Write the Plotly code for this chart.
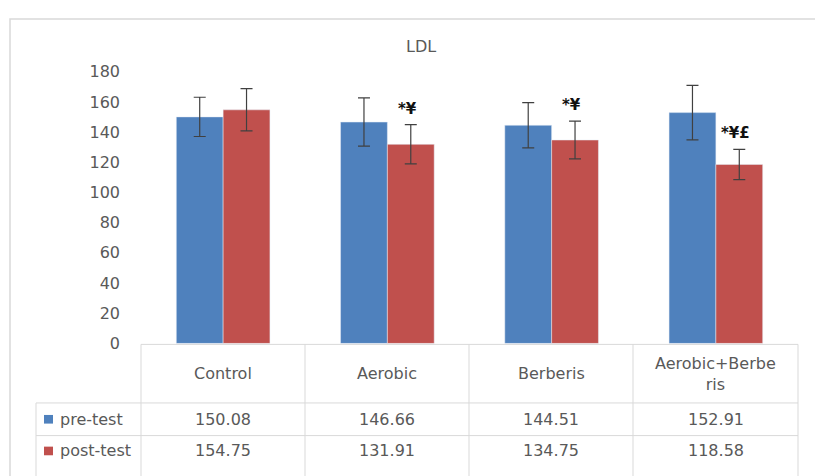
import plotly.graph_objects as go

categories = ["Control", "Aerobic", "Berberis", "Aerobic+Berberis"]
category_labels = ["Control", "Aerobic", "Berberis", "Aerobic+Berbe<br>ris"]
series_names = ["pre-test", "post-test"]
pre_test = [150.08, 146.66, 144.51, 152.91]
post_test = [154.75, 131.91, 134.75, 118.58]
pre_err = [13, 16, 15, 18]
post_err = [14, 13, 12.5, 10]
post_marks = ["", "*¥", "*¥", "*¥£"]
y_ticks = [0, 20, 40, 60, 80, 100, 120, 140, 160, 180]
title_text = "LDL"

# the page body has an 8px margin; figure coordinates are shifted so that
# positions below are given in window pixels
OFF = 8
W, H = 823, 476
BLUE = "#4F81BD"
RED = "#C0504D"
GRID = "#D9D9D9"
TXT = "#595959"
FONT = "DejaVu Sans"


def px(x):
    return (x - OFF) / W


def py(y):
    return 1 - (y - OFF) / H


plot_left, plot_right = 141, 798
y_zero, y_top = 348, 65

fig = go.Figure()
fig.add_trace(go.Bar(
    x=categories, y=pre_test, name=series_names[0], marker_color=BLUE,
    error_y=dict(type="data", array=pre_err, visible=True, color="#404040", thickness=1.2, width=6),
))
fig.add_trace(go.Bar(
    x=categories, y=post_test, name=series_names[1], marker_color=RED,
    error_y=dict(type="data", array=post_err, visible=True, color="#404040", thickness=1.2, width=6),
))

shapes = []
# chart border
shapes.append(dict(type="rect", xref="paper", yref="paper", x0=px(10), x1=px(840), y0=py(10), y1=py(495),
                   line=dict(color=GRID, width=1.5)))

# table geometry
col_edges = [141, 305, 469, 633, 798]
row_top, row_hdr, row_pre, row_bot = 349, 410, 444, 490
tab_left = 36


def hline(y, x0, x1):
    shapes.append(dict(type="line", xref="paper", yref="paper", x0=px(x0), x1=px(x1), y0=py(y), y1=py(y),
                       line=dict(color=GRID, width=1)))


def vline(x, y0, y1):
    shapes.append(dict(type="line", xref="paper", yref="paper", x0=px(x), x1=px(x), y0=py(y0), y1=py(y1),
                       line=dict(color=GRID, width=1)))


hline(row_top, col_edges[0], col_edges[-1])
hline(row_hdr, tab_left, col_edges[-1])
hline(row_pre, tab_left, col_edges[-1])
vline(tab_left, row_hdr, row_bot)
for xe in col_edges:
    vline(xe, row_top, row_bot)

pre_row_y = 427
post_row_y = 460

# legend keys
for (yc, col) in [(pre_row_y, BLUE), (post_row_y, RED)]:
    shapes.append(dict(type="rect", xref="paper", yref="paper", x0=px(44), x1=px(53), y0=py(yc - 4.5),
                       y1=py(yc + 4.5), line=dict(width=0), fillcolor=col))

annotations = []
annotations.append(dict(text=title_text, xref="paper", yref="paper", x=px(421), y=py(39), showarrow=False,
                        font=dict(family=FONT, size=16, color=TXT), xanchor="center", yanchor="middle"))

cell_font = dict(family=FONT, size=16, color=TXT)
for i, lab in enumerate(category_labels):
    xc = (col_edges[i] + col_edges[i + 1]) / 2
    annotations.append(dict(text=lab, xref="paper", yref="paper", x=px(xc), y=py((row_top + row_hdr) / 2),
                            showarrow=False, font=cell_font, xanchor="center", yanchor="middle"))
    annotations.append(dict(text=f"{pre_test[i]:.2f}", xref="paper", yref="paper", x=px(xc), y=py(pre_row_y),
                            showarrow=False, font=cell_font, xanchor="center", yanchor="middle"))
    annotations.append(dict(text=f"{post_test[i]:.2f}", xref="paper", yref="paper", x=px(xc), y=py(post_row_y),
                            showarrow=False, font=cell_font, xanchor="center", yanchor="middle"))
    if post_marks[i]:
        annotations.append(dict(text="<b>" + post_marks[i] + "</b>", x=categories[i],
                                y=post_test[i] + post_err[i], xref="x", yref="y", xshift=20, yshift=5,
                                showarrow=False, font=dict(family=FONT, size=15, color="#111111"),
                                xanchor="center", yanchor="bottom"))

annotations.append(dict(text=series_names[0], xref="paper", yref="paper", x=px(58), y=py(pre_row_y),
                        showarrow=False, font=cell_font, xanchor="left", yanchor="middle"))
annotations.append(dict(text=series_names[1], xref="paper", yref="paper", x=px(58), y=py(post_row_y),
                        showarrow=False, font=cell_font, xanchor="left", yanchor="middle"))

fig.update_layout(
    width=W, height=H,
    margin=dict(l=0, r=0, t=0, b=0),
    paper_bgcolor="white", plot_bgcolor="white",
    barmode="group", bargap=0.43, bargroupgap=0,
    showlegend=False,
    xaxis=dict(domain=[px(plot_left), px(plot_right)], range=[-0.5, 3.5], showticklabels=False,
               showgrid=False, zeroline=False, showline=False, fixedrange=True),
    yaxis=dict(domain=[py(y_zero), py(y_top)], range=[0, 180], tickvals=y_ticks, showgrid=False,
               zeroline=False, showline=False, ticks="", ticklabelstandoff=20,
               tickfont=dict(family=FONT, size=16, color=TXT), fixedrange=True),
    shapes=shapes, annotations=annotations,
)

fig.write_html("out.html", config={"displayModeBar": False})
